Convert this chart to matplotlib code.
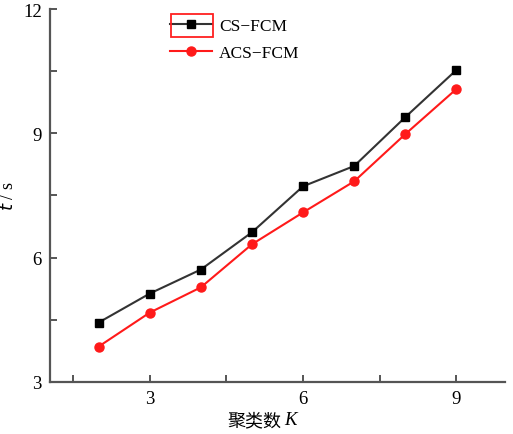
import numpy as np
import matplotlib.pyplot as plt
from matplotlib.patches import Rectangle

# === Datos ===
k = [2, 3, 4, 5, 6, 7, 8, 9]
cs_fcm = [4.43, 5.13, 5.71, 6.61, 7.72, 8.21, 9.39, 10.53]
acs_fcm = [3.85, 4.67, 5.28, 6.32, 7.09, 7.84, 8.98, 10.07]
x_ticks = [1.5, 3, 4.5, 6, 7.5, 9]
x_labels = ['', '3', '', '6', '', '9']
y_ticks = [3, 4.5, 6, 7.5, 9, 10.5, 12]
y_labels = ['3', '', '6', '', '9', '', '12']

plt.rcParams['font.family'] = ['Liberation Serif', 'Noto Sans CJK SC']

W, H = 513, 435
fig = plt.figure(figsize=(W / 100, H / 100), dpi=100)
ax = fig.add_axes([0.0975, 0.12, 0.887, 0.857])

ax.plot(k, cs_fcm, color='#333333', lw=1.5, marker='s', ms=6,
        mfc='black', mec='black', label='CS\u2212FCM')
ax.plot(k, acs_fcm, color='#ff1a1a', lw=1.5, marker='o', ms=6.5,
        mfc='#ff1a1a', mec='#ff1a1a', label='ACS\u2212FCM')

ax.set_xlim(1.05, 9.95)
ax.set_ylim(3, 12)
ax.set_xticks(x_ticks)
ax.set_xticklabels(x_labels)
ax.set_yticks(y_ticks)
ax.set_yticklabels(y_labels)

for s in ['top', 'right']:
    ax.spines[s].set_visible(False)
for s in ['left', 'bottom']:
    ax.spines[s].set_color('#555555')
    ax.spines[s].set_linewidth(1.6)
ax.tick_params(direction='in', length=5, width=1.4, color='#555555',
               labelsize=13.5, pad=6)

# etiqueta del eje x: texto chino + K en cursiva
fig.text(254 / W, 1 - 421 / H, '聚类数', family='Noto Sans CJK SC',
         fontsize=13, ha='center', va='center')
fig.text(284 / W, 1 - 421 / H, 'K', style='italic', fontsize=13.5,
         ha='left', va='center')
ax.set_ylabel('$t$ / s', fontsize=13, labelpad=4)

leg = ax.legend(loc='upper left', bbox_to_anchor=(0.23, 1.017), frameon=False,
                fontsize=12.5, handlelength=2.4, handletextpad=0.4,
                labelspacing=0.6)

# recuadro rojo alrededor del primer elemento de la leyenda
fig.patches.append(Rectangle((171 / W, 1 - 38 / H), 42 / W, 23 / H,
                             transform=fig.transFigure, fill=False,
                             edgecolor='#ff2020', lw=1.3))

fig.savefig('out.png', dpi=100)
